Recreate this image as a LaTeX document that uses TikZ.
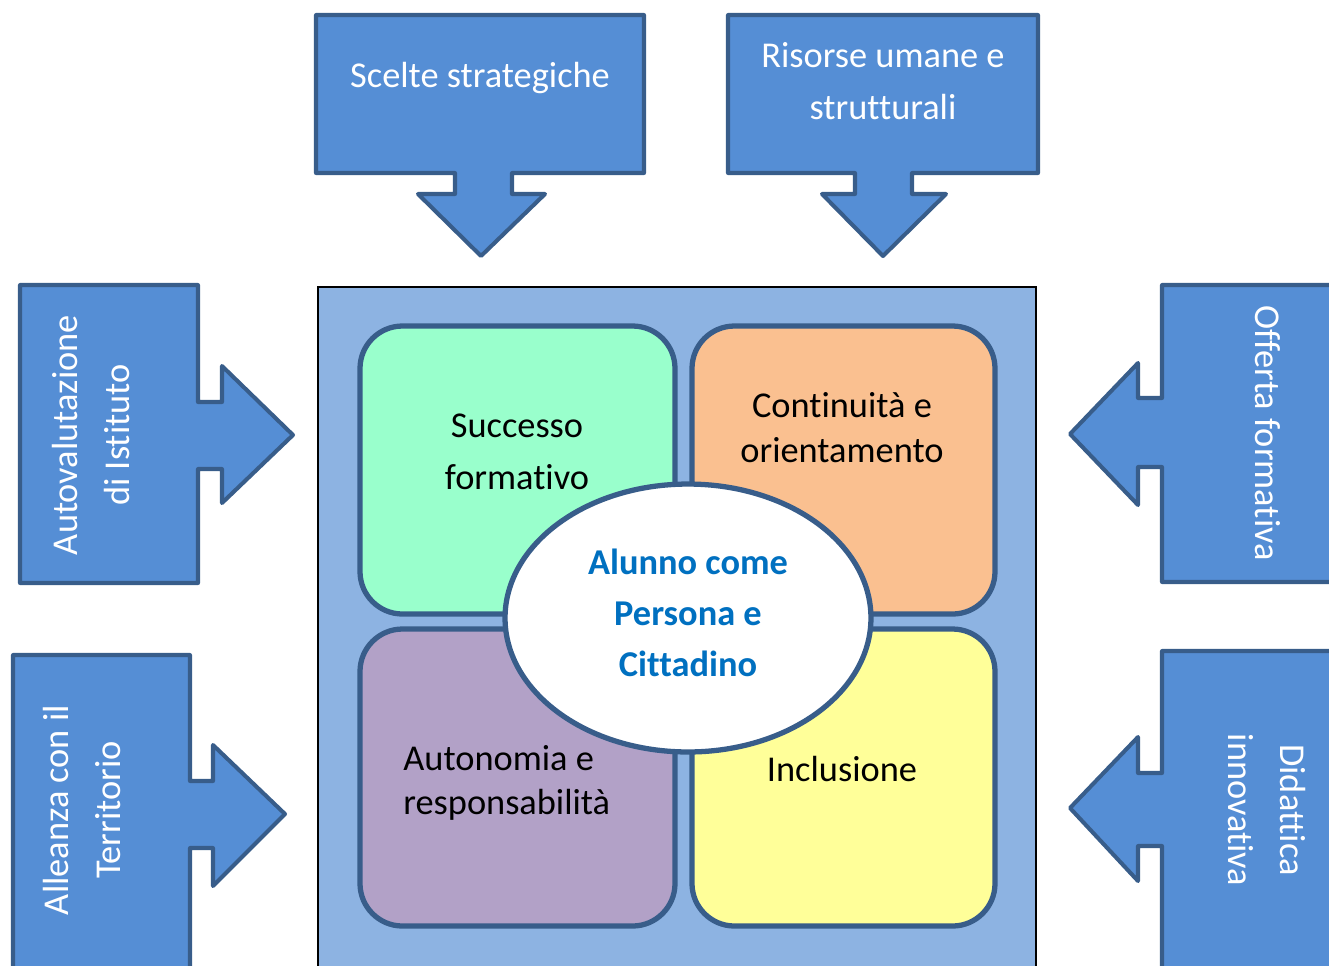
\documentclass[tikz,border=0pt]{standalone}
\usepackage{fontspec}
\setmainfont{Carlito}[Ligatures=NoCommon]
\usepackage{tikz}
\usepackage{xcolor}
\usetikzlibrary{shapes.geometric}

\begin{document}
\begin{tikzpicture}[x=0.02cm, y=-0.02cm]
			\definecolor{ARROW}{RGB}{85, 142, 213}
			\definecolor{EDGE}{RGB}{56, 93, 138}
			\definecolor{FIELD}{RGB}{141, 179, 226}
			\definecolor{MINT}{RGB}{153, 255, 204}
			\definecolor{PEACH}{RGB}{250, 192, 144}
			\definecolor{LILAC}{RGB}{178, 161, 199}
			\definecolor{LEMON}{RGB}{255, 255, 153}
			\definecolor{TITLE}{RGB}{0, 112, 192}
			\useasboundingbox (0, 0) rectangle (1329, 965);
			\clip (0, 0) rectangle (1329, 965);
			\draw[fill={FIELD}, draw=black, line width={1.1pt}] (318, 287) rectangle (1036, 990);
			\draw[rounded corners=0.85cm, fill={MINT}, draw={EDGE}, line width={3pt}] (360, 326) rectangle (675, 614);
			\draw[rounded corners=0.85cm, fill={PEACH}, draw={EDGE}, line width={3pt}] (692, 326) rectangle (995, 614);
			\draw[rounded corners=0.85cm, fill={LILAC}, draw={EDGE}, line width={3pt}] (360, 629) rectangle (675, 926);
			\draw[rounded corners=0.85cm, fill={LEMON}, draw={EDGE}, line width={3pt}] (692, 629) rectangle (995, 926);
			\draw[fill={ARROW}, draw={EDGE}, line width={2.3pt}, line join=round] (316, 15) -- (644, 15) -- (644, 173) -- (512, 173) -- (512, 194) -- (545, 194) -- (481, 256) -- (418, 194) -- (455, 194) -- (455, 173) -- (316, 173) -- cycle;
			\draw[fill={ARROW}, draw={EDGE}, line width={2.3pt}, line join=round] (728, 15) -- (1038, 15) -- (1038, 173) -- (912, 173) -- (912, 194) -- (946, 194) -- (883, 256) -- (822, 194) -- (855, 194) -- (855, 173) -- (728, 173) -- cycle;
			\draw[fill={ARROW}, draw={EDGE}, line width={2.3pt}, line join=round] (20, 285) -- (198, 285) -- (198, 402) -- (222, 402) -- (222, 366) -- (293, 435) -- (222, 503) -- (222, 469) -- (198, 469) -- (198, 583) -- (20, 583) -- cycle;
			\draw[fill={ARROW}, draw={EDGE}, line width={2.3pt}, line join=round] (13, 655) -- (190, 655) -- (190, 781) -- (213, 781) -- (213, 745) -- (285, 814) -- (213, 886) -- (213, 848) -- (190, 848) -- (190, 990) -- (13, 990) -- cycle;
			\draw[fill={ARROW}, draw={EDGE}, line width={2.3pt}, line join=round] (1162, 285) -- (1340, 285) -- (1340, 582) -- (1162, 582) -- (1162, 467) -- (1138, 467) -- (1138, 505) -- (1070, 434) -- (1138, 363) -- (1138, 398) -- (1162, 398) -- cycle;
			\draw[fill={ARROW}, draw={EDGE}, line width={2.3pt}, line join=round] (1162, 651) -- (1340, 651) -- (1340, 990) -- (1162, 990) -- (1162, 846) -- (1138, 846) -- (1138, 881) -- (1070, 808) -- (1138, 737) -- (1138, 773) -- (1162, 773) -- cycle;
			\node[ellipse, draw={EDGE}, fill=white, line width={3pt}, minimum width=7.32cm, minimum height=5.36cm, inner sep=0pt] (alunno) at (688, 618) {};
			\node[align=center, text={TITLE}, font={\fontsize{20.7}{28.9}\selectfont\bfseries}] (alunnotesto) at (688, 613) {Alunno come\\Persona e\\Cittadino};
			\node[align=center, text=white, font={\fontsize{20.7}{29.5}\selectfont}] (scelte) at (480, 78) {Scelte strategiche};
			\node[align=center, text=white, font={\fontsize{20.7}{29.5}\selectfont}] (risorse) at (883, 81) {Risorse umane e\\strutturali};
			\node[align=center, text=white, rotate=90, font={\fontsize{20.7}{29.5}\selectfont}] (autoval) at (91, 435) {Autovalutazione\\di Istituto};
			\node[align=center, text=white, rotate=90, font={\fontsize{20.7}{29.5}\selectfont}] (alleanza) at (82, 810) {Alleanza con il\\Territorio};
			\node[align=center, text=white, rotate=-90, font={\fontsize{20.7}{29.5}\selectfont}] (offerta) at (1268, 433) {Offerta formativa};
			\node[align=center, text=white, rotate=-90, font={\fontsize{20.7}{29.5}\selectfont}] (didattica) at (1267, 810) {Didattica\\innovativa};
			\node[align=center, font={\fontsize{20.7}{29.5}\selectfont}] (successo) at (517, 452) {Successo\\formativo};
			\node[align=center, font={\fontsize{20.7}{25.5}\selectfont}] (continuita) at (842, 428) {Continuità e\\orientamento};
			\node[align=left, anchor=west, inner sep=0pt, font={\fontsize{20.7}{25}\selectfont}] (autonomia) at (403, 783) {Autonomia e\\responsabilità};
			\node[align=center, font={\fontsize{20.7}{29.5}\selectfont}] (inclusione) at (842, 769) {Inclusione};
		\end{tikzpicture}
\end{document}
